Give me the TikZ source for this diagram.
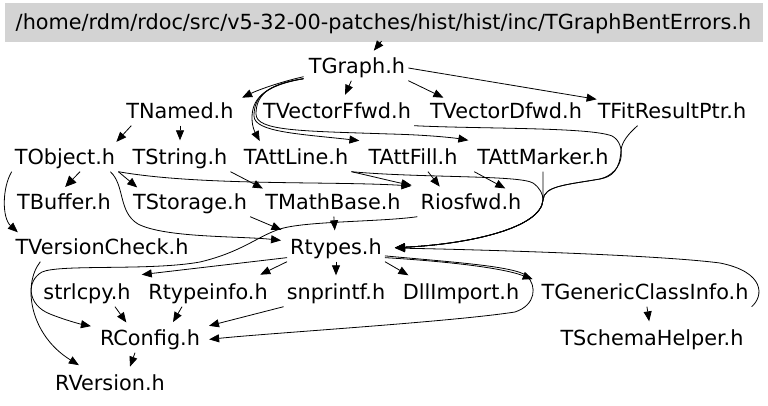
\documentclass[tikz,border=0pt]{standalone}
\usepackage{fontspec}
\setmainfont{DejaVu Sans}
\usetikzlibrary{arrows.meta,calc}
\definecolor{boxgray}{RGB}{211,211,211}
\begin{document}
\begin{tikzpicture}[x=1pt,y=-1pt,
  file/.style={font=\fontsize{20.8}{24}\selectfont, text height=15pt, text depth=4pt, inner xsep=3pt, inner ysep=3pt, anchor=center},
  hdr/.style={file, text height=20pt, text depth=4pt, minimum width=757pt, minimum height=38pt, fill=boxgray, draw=boxgray},
  e/.style={draw, line width=0.8pt, -{Triangle[length=10pt,width=8pt]}, shorten >=6pt},
  eb/.style={e, -{Triangle[length=11pt,width=10pt]}}
]
\useasboundingbox (0,0) rectangle (768,406);
\node[hdr] (top) at (383.5,22) {/home/rdm/rdoc/src/v5-32-00-patches/hist/hist/inc/TGraphBentErrors.h};
\node[file] (TGraph) at (357,68) {TGraph.h};
\node[file] (TNamed) at (180,113) {TNamed.h};
\node[file] (TVectorFfwd) at (337,113) {TVectorFfwd.h};
\node[file] (TVectorDfwd) at (506,113) {TVectorDfwd.h};
\node[file] (TFitResultPtr) at (672,113) {TFitResultPtr.h};
\node[file] (TObject) at (65,159) {TObject.h};
\node[file] (TString) at (180,159) {TString.h};
\node[file] (TAttLine) at (296,159) {TAttLine.h};
\node[file] (TAttFill) at (413,159) {TAttFill.h};
\node[file] (TAttMarker) at (543,159) {TAttMarker.h};
\node[file] (TBuffer) at (64,204) {TBuffer.h};
\node[file] (TStorage) at (190,204) {TStorage.h};
\node[file] (TMathBase) at (333,204) {TMathBase.h};
\node[file] (Riosfwd) at (471,204) {Riosfwd.h};
\node[file] (TVersionCheck) at (102,249) {TVersionCheck.h};
\node[file] (Rtypes) at (336,249) {Rtypes.h};
\node[file] (strlcpy) at (87,294) {strlcpy.h};
\node[file] (Rtypeinfo) at (208,294) {Rtypeinfo.h};
\node[file] (snprintf) at (336,294) {snprintf.h};
\node[file] (DllImport) at (461,294) {DllImport.h};
\node[file] (TGenericClassInfo) at (645,294) {TGenericClassInfo.h};
\node[file] (RConfig) at (150,340) {RConfig.h};
\node[file] (TSchemaHelper) at (652,340) {TSchemaHelper.h};
\node[file] (RVersion) at (110,385) {RVersion.h};

% header -> TGraph
\draw[e] ($(top.south)+(-2,0)$) -- ($(TGraph.north)+(13,0)$);
% TGraph
\draw[e] ($(TGraph.south west)+(-2,-4)$) .. controls (280,82) and (258,90) .. (TNamed.north east);
\draw[e] ($(TGraph.south west)+(-2,-2)$) .. controls (262,86) and (252,100) .. (252,118) .. controls (252,128) and (256,134) .. ($(TAttLine.north west)+(22,0)$);
\draw[e] ($(TGraph.south west)+(-2,-2)$) .. controls (264,85) and (254,98) .. (254,116) .. controls (254,132) and (300,134) .. ($(TAttFill.north west)+(0,-5)$);
\draw[e] ($(TGraph.south west)+(-2,-2)$) .. controls (266,84) and (256,97) .. (256,114) .. controls (256,131) and (300,131) .. (390,134) .. controls (430,135) and (455,138) .. ($(TAttMarker.north west)+(0,-5)$);
\draw[e] (TGraph) -- (TVectorFfwd);
\draw[e] (TGraph.south east) -- ($(TVectorDfwd.north west)+(22,0)$);
\draw[e] (TGraph.east) -- ($(TFitResultPtr.north west)+(8,0)$);
% TNamed
\draw[e] ($(TNamed.south west)+(8,0)$) -- ($(TObject.north east)+(-6,0)$);
\draw[e] (TNamed) -- (TString);
% TObject
\draw[eb] ($(TObject.south)+(15,0)$) -- ($(TBuffer.north)+(-3,0)$);
\draw[e] (TObject.south west) .. controls (2,188) and (2,218) .. ($(TVersionCheck.north west)+(10,0)$);
\draw[e] (TObject.south east) -- ($(TStorage.north west)+(12,0)$);
\draw[e] (TObject.south east) .. controls (200,186) and (330,181) .. ($(Riosfwd.north west)+(0,-5)$);
\draw[e] ($(TObject.south east)+(-8,0)$) .. controls (125,185) and (118,212) .. (138,224) .. controls (165,238) and (240,236) .. ($(Rtypes.west)+(0,-8)$);
% TString, TAtt*
\draw[e] (TString.south east) -- ($(TMathBase.north west)+(6,0)$);
\draw[e] (TAttLine.south east) .. controls (375,177) and (395,182) .. ($(Riosfwd.north west)+(0,-5)$);
\draw[e] ($(TAttFill.south)+(15,0)$) -- ($(Riosfwd.north west)+(26,0)$);
\draw[e] (TAttMarker.south west) -- ($(Riosfwd.north east)+(-14,0)$);
% bundle into Rtypes from the right
\draw[e] (TVectorFfwd.south east) .. controls (480,129) and (590,127) .. (612,136) .. controls (626,143) and (626,172) .. (600,179) .. controls (565,185) and (544,186) .. (543,200) .. controls (541,228) and (470,244) .. ($(Rtypes.east)+(4,-1)$);
\draw[e] ($(TFitResultPtr.south west)+(43,0)$) .. controls (628,134) and (622,142) .. (621,150) .. controls (620,170) and (612,177) .. (600,179) .. controls (565,185) and (544,186) .. (543,200) .. controls (541,228) and (470,244) .. ($(Rtypes.east)+(4,-1)$);
\draw[e] (TAttMarker.south) .. controls (543,185) and (543,192) .. (543,200) .. controls (541,228) and (470,244) .. ($(Rtypes.east)+(4,-1)$);
\draw[e] (TAttLine.south east) .. controls (420,178) and (520,175) .. (533,183) .. controls (540,188) and (543,194) .. (543,200) .. controls (541,228) and (470,244) .. ($(Rtypes.east)+(4,-1)$);
\draw[e] (TGenericClassInfo.south east) .. controls (764,296) and (765,272) .. (720,263) .. controls (650,254) and (450,249) .. ($(Rtypes.east)+(4,-1)$);
% Storage / MathBase / Riosfwd
\draw[e] (TStorage.south east) -- ($(Rtypes.north west)+(0,-4)$);
\draw[e] (TMathBase) -- (Rtypes);
\draw[e] (Riosfwd.south west) .. controls (380,222) and (305,221) .. (280,229) .. controls (258,236) and (242,252) .. (200,262) .. controls (150,271) and (60,264) .. (42,272) .. controls (26,281) and (27,305) .. (50,314) .. controls (65,320) and (80,324) .. (RConfig.north west);
% Rtypes
\draw[e] (Rtypes.-10) .. controls (440,261) and (500,267) .. (TGenericClassInfo.north west);
\draw[e] (Rtypes.-8) .. controls (450,262) and (515,266) .. (527,276) .. controls (537,286) and (536,305) .. (515,312) .. controls (450,322) and (270,333) .. (RConfig.east);
\draw[e] (Rtypes.190) -- ($(strlcpy.north east)+(2,-6)$);
\draw[e] (Rtypes.south west) -- ($(Rtypeinfo.north east)+(-16,-4)$);
\draw[e] (Rtypes) -- (snprintf);
\draw[e] (Rtypes.south east) -- ($(DllImport.north west)+(14,-3)$);
% lower
\draw[e] ($(strlcpy.south)+(28,0)$) -- ($(RConfig.north west)+(33,0)$);
\draw[e] ($(Rtypeinfo.south)+(-26,0)$) -- ($(RConfig.north)+(20,0)$);
\draw[e] (snprintf.south west) -- (RConfig.north east);
\draw[e] ($(RConfig.south)+(-15,0)$) -- ($(RVersion.north)+(18,0)$);
\draw[e] ($(TVersionCheck.south west)+(28,0)$) .. controls (22,285) and (30,335) .. ($(RVersion.north west)+(32,-4)$);
\draw[e] (TGenericClassInfo) -- (TSchemaHelper);
\end{tikzpicture}
\end{document}
